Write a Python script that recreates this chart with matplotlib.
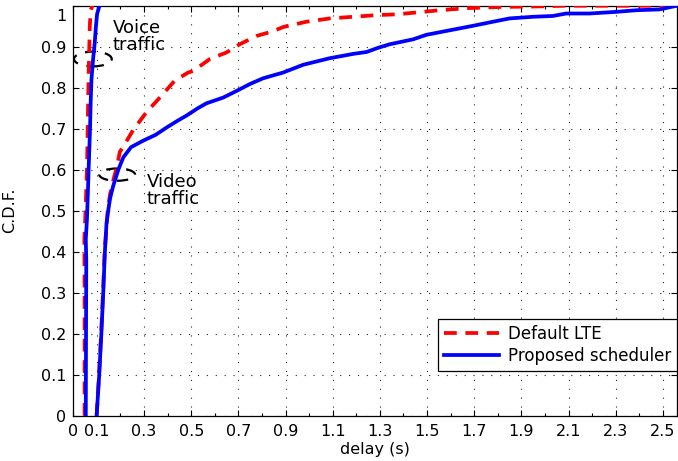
import matplotlib
matplotlib.use("Agg")
import matplotlib.pyplot as plt
import matplotlib.transforms as mtransforms
from matplotlib.patches import Ellipse

# Voice traffic delay CDFs
voice_lte_delay = [0.048, 0.048, 0.047, 0.052, 0.058, 0.061, 0.064, 0.067, 0.070, 0.074, 0.081]
voice_lte_cdf = [0.00, 0.30, 0.43, 0.50, 0.60, 0.70, 0.80, 0.88, 0.95, 0.99, 1.00]

voice_prop_delay = [0.053, 0.054, 0.055, 0.053, 0.058, 0.061, 0.065, 0.068, 0.071, 0.074,
                    0.077, 0.084, 0.091, 0.096, 0.101, 0.111]
voice_prop_cdf = [0.00, 0.20, 0.38, 0.43, 0.48, 0.53, 0.60, 0.65, 0.70, 0.77,
                  0.82, 0.87, 0.91, 0.95, 0.98, 1.00]

# Video traffic delay CDFs
video_lte_delay = [0.099, 0.109, 0.118, 0.126, 0.133, 0.146, 0.156, 0.170, 0.186, 0.197,
                   0.219, 0.254, 0.310, 0.367, 0.430, 0.487, 0.509, 0.579, 0.650, 0.706,
                   0.776, 0.848, 0.890, 0.989, 1.088, 1.186, 1.285, 1.370, 1.483, 1.554,
                   1.667, 1.808, 1.945, 2.084, 2.560]
video_lte_cdf = [0.000, 0.100, 0.200, 0.300, 0.400, 0.500, 0.540, 0.575, 0.610, 0.643,
                 0.663, 0.697, 0.740, 0.776, 0.817, 0.837, 0.841, 0.870, 0.886, 0.906,
                 0.926, 0.938, 0.948, 0.961, 0.969, 0.973, 0.977, 0.979, 0.985, 0.989,
                 0.994, 0.997, 0.998, 1.000, 1.000]

video_prop_delay = [0.099, 0.110, 0.119, 0.127, 0.134, 0.141, 0.148, 0.156, 0.169, 0.191,
                    0.212, 0.245, 0.297, 0.349, 0.396, 0.438, 0.480, 0.528, 0.565, 0.636,
                    0.692, 0.749, 0.805, 0.890, 0.975, 1.088, 1.192, 1.243, 1.291, 1.342,
                    1.441, 1.497, 1.596, 1.695, 1.780, 1.850, 1.949, 2.034, 2.090, 2.189,
                    2.302, 2.388, 2.486, 2.560]
video_prop_cdf = [0.000, 0.100, 0.200, 0.300, 0.400, 0.470, 0.500, 0.530, 0.560, 0.600,
                  0.630, 0.655, 0.671, 0.685, 0.703, 0.718, 0.732, 0.750, 0.762, 0.776,
                  0.792, 0.809, 0.823, 0.837, 0.856, 0.872, 0.883, 0.887, 0.897, 0.906,
                  0.918, 0.929, 0.940, 0.951, 0.961, 0.969, 0.973, 0.975, 0.981, 0.981,
                  0.985, 0.989, 0.991, 1.000]

x_major_ticks = [0, 0.1, 0.3, 0.5, 0.7, 0.9, 1.1, 1.3, 1.5, 1.7, 1.9, 2.1, 2.3, 2.5]
x_tick_labels = ["0", "0.1", "0.3", "0.5", "0.7", "0.9", "1.1", "1.3", "1.5", "1.7",
                 "1.9", "2.1", "2.3", "2.5"]
x_minor_ticks = [0.2, 0.4, 0.6, 0.8, 1.0, 1.2, 1.4, 1.6, 1.8, 2.0, 2.2, 2.4]
y_ticks = [0, 0.1, 0.2, 0.3, 0.4, 0.5, 0.6, 0.7, 0.8, 0.9, 1.0]
y_tick_labels = ["0", "0.1", "0.2", "0.3", "0.4", "0.5", "0.6", "0.7", "0.8", "0.9", "1"]

series_labels = ["Default LTE", "Proposed scheduler"]

plt.rcParams["font.family"] = ["DejaVu Sans"]

fig = plt.figure(figsize=(6.78, 4.61), dpi=100)
ax = fig.add_axes([0.1081, 0.0983, 0.8904, 0.8893])

red = "#ff0000"
blue = "#0000ff"
lw = 2.7

# annotation ellipses (dashed)
ax.add_patch(Ellipse((0.083, 0.870), 0.160, 0.036, fill=False, edgecolor="black",
                     linewidth=1.6, linestyle=(0, (5, 4)), zorder=2))
ax.add_patch(Ellipse((0.186, 0.588), 0.152, 0.030, fill=False, edgecolor="black",
                     linewidth=1.6, linestyle=(0, (5, 4)), zorder=2))

ax.plot(voice_lte_delay, voice_lte_cdf, color=red, lw=lw, dashes=(3.4, 2.3),
        label=series_labels[0], zorder=3)
ax.plot(video_lte_delay, video_lte_cdf, color=red, lw=lw, dashes=(3.4, 2.3), zorder=3)
ax.plot(voice_prop_delay, voice_prop_cdf, color=blue, lw=lw,
        label=series_labels[1], zorder=4)
ax.plot(video_prop_delay, video_prop_cdf, color=blue, lw=lw, zorder=4)

ax.set_xlim(0, 2.56)
ax.set_ylim(0, 1)

ax.set_xticks(x_major_ticks)
ax.set_xticklabels(x_tick_labels)
ax.set_xticks(x_minor_ticks, minor=True)
ax.set_yticks(y_ticks)
ax.set_yticklabels(y_tick_labels)

ax.tick_params(which="both", direction="in", top=True, right=True,
               labelsize=11.5, color="black")
ax.tick_params(which="major", length=4, width=0.8)
ax.tick_params(which="minor", length=2.5, width=0.8)
ax.tick_params(axis="x", pad=6)
ax.tick_params(axis="y", pad=5)

# nudge the top y label down so it sits inside the canvas
lab = ax.get_yticklabels()[-1]
lab.set_transform(lab.get_transform() +
                  mtransforms.ScaledTranslation(0, -9 / 100, fig.dpi_scale_trans))

for sp in ax.spines.values():
    sp.set_linewidth(0.9)
    sp.set_color("black")

ax.grid(True, which="major", color="0.15", linestyle=(0, (1, 7)), linewidth=0.8)
ax.set_axisbelow(True)

ax.set_xlabel("delay (s)", fontsize=11.5)
ax.xaxis.set_label_coords(0.5, -0.063)
ax.set_ylabel("C.D.F.", fontsize=11.5)
ax.yaxis.set_label_coords(-0.093, 0.5)

ax.text(0.168, 0.968, "Voice\ntraffic", fontsize=13, va="top", ha="left",
        linespacing=0.95, zorder=5)
ax.text(0.312, 0.593, "Video\ntraffic", fontsize=13, va="top", ha="left",
        linespacing=0.95, zorder=5)

leg = ax.legend(loc="lower right", bbox_to_anchor=(1.0, 0.109), borderaxespad=0,
                fontsize=12, fancybox=False, framealpha=1, edgecolor="black",
                handlelength=3.3, handletextpad=0.55, borderpad=0.35,
                labelspacing=0.25)
leg.get_frame().set_linewidth(0.9)

fig.savefig("out.png", dpi=100)
